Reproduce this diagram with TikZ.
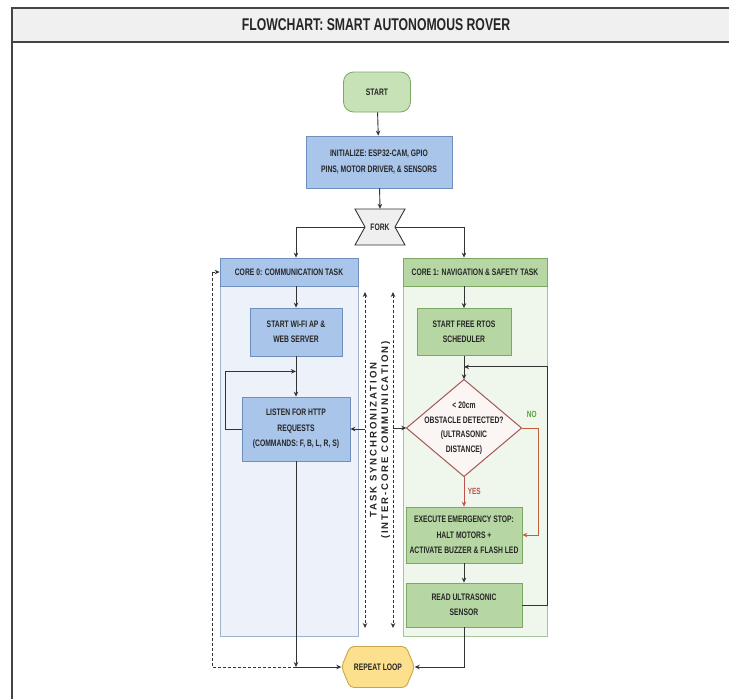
\documentclass[tikz,border=0pt]{standalone}
\usepackage{fontspec}
\setmainfont{Liberation Sans}[FakeStretch=0.72]
\newfontfamily\syncfont{Liberation Sans}[LetterSpace=20]
\usetikzlibrary{calc,arrows.meta}
\definecolor{bluef}{HTML}{A9C5EA}
\definecolor{bluedr}{HTML}{6F8FBF}
\definecolor{greenf}{HTML}{B6D7A3}
\definecolor{greendr}{HTML}{7DA862}
\definecolor{startf}{HTML}{C8E2B8}
\definecolor{pzf}{HTML}{EDF2FA}
\definecolor{pzd}{HTML}{9FB3D1}
\definecolor{pof}{HTML}{EFF6EC}
\definecolor{pod}{HTML}{A8C49B}
\definecolor{diaf}{HTML}{FBF5F3}
\definecolor{diad}{HTML}{A4585A}
\definecolor{repf}{HTML}{FDE08E}
\definecolor{repd}{HTML}{C9A648}
\definecolor{forkf}{HTML}{EFEFEF}
\definecolor{txt}{HTML}{262626}
\definecolor{linec}{HTML}{333333}
\definecolor{framec}{HTML}{444444}
\definecolor{titlebg}{HTML}{F0F0F0}
\definecolor{yesc}{HTML}{C0504D}
\definecolor{noc}{HTML}{C0603A}
\definecolor{nolab}{HTML}{5AA040}
\newcommand\bxfont{\fontsize{9.4}{15.5}\selectfont\bfseries\color{txt}}
\begin{document}
\begin{tikzpicture}[x=1pt,y=-1pt,
  box/.style={line width=0.8pt, align=center, inner sep=1pt, font=\bxfont},
  bluebox/.style={box, draw=bluedr, fill=bluef},
  greenbox/.style={box, draw=greendr, fill=greenf},
  panel/.style={line width=0.8pt, inner sep=0},
  arr/.style={-{Stealth[length=5pt,width=4.5pt]}, line width=0.9pt, draw=linec},
  darr/.style={{Stealth[length=5pt,width=4.5pt]}-{Stealth[length=5pt,width=4.5pt]}, line width=0.9pt, draw=linec},
  dsh/.style={dash pattern=on 3pt off 2pt, line width=0.8pt, draw=linec},
  plain/.style={line width=0.9pt, draw=linec}]
\useasboundingbox (0,0) rectangle (729,699);
\fill[white] (0,0) rectangle (729,699);
% frame and title
\fill[titlebg] (12,8) rectangle (729,42);
\draw[framec, line width=1.5pt] (729,8) -- (12,8) -- (12,699);
\draw[framec, line width=1.5pt] (12,42) -- (729,42);
\node[font=\fontsize{17}{19}\selectfont\bfseries\color{txt}] (title) at (376,25) {FLOWCHART: SMART AUTONOMOUS ROVER};
% panels
\node[panel, fill=pzf, draw=pzd, minimum width=138pt, minimum height=378pt] (p0) at (289,447) {};
\node[panel, fill=pof, draw=pod, minimum width=144pt, minimum height=378pt] (p1) at (475,447) {};
\node[bluebox, minimum width=138pt, minimum height=28pt] (h0) at (289,272) {CORE 0: COMMUNICATION TASK};
\node[greenbox, minimum width=144pt, minimum height=28pt] (h1) at (475,272) {CORE 1: NAVIGATION \& SAFETY TASK};
% top
\node[box, draw=greendr, fill=startf, rounded corners=10pt, minimum width=67pt, minimum height=40pt] (start) at (377,92) {START};
\node[bluebox, minimum width=146pt, minimum height=52pt] (init) at (379,162) {INITIALIZE: ESP32-CAM, GPIO\\PINS, MOTOR DRIVER, \& SENSORS};
\coordinate (fc) at (380,227);
\draw[line width=0.9pt, draw=linec, fill=forkf] ($(fc)+(-25,-18)$) -- ($(fc)+(25,-18)$) -- ($(fc)+(15,0)$) -- ($(fc)+(25,18)$) -- ($(fc)+(-25,18)$) -- ($(fc)+(-15,0)$) -- cycle;
\node[font=\bxfont, minimum width=30pt, minimum height=36pt, inner sep=0] (fork) at (fc) {FORK};
% core 0 boxes
\node[bluebox, minimum width=92pt, minimum height=48pt] (wifi) at (296,332) {START WI-FI AP \&\\WEB SERVER};
\node[bluebox, minimum width=108pt, minimum height=64pt] (listen) at (296,429) {LISTEN FOR HTTP\\REQUESTS\\(COMMANDS: F, B, L, R, S)};
% core 1 boxes
\node[greenbox, minimum width=94pt, minimum height=47pt] (rtos) at (464,332) {START FREE RTOS\\SCHEDULER};
\coordinate (dc) at (464,428);
\draw[line width=1pt, draw=diad, fill=diaf] ($(dc)+(0,-48.5)$) -- ($(dc)+(57.5,0)$) -- ($(dc)+(0,48.5)$) -- ($(dc)+(-57.5,0)$) -- cycle;
\node[font=\fontsize{9.4}{14.5}\selectfont\bfseries\color{txt}, align=center, minimum width=115pt, minimum height=97pt, inner sep=0] (dia) at (dc) {< 20cm\\OBSTACLE DETECTED?\\(ULTRASONIC\\DISTANCE)};
\node[greenbox, minimum width=116pt, minimum height=56pt] (em) at (464,535) {EXECUTE EMERGENCY STOP:\\HALT MOTORS +\\ACTIVATE BUZZER \& FLASH LED};
\node[greenbox, minimum width=116pt, minimum height=44pt] (rd) at (464,605) {READ ULTRASONIC\\SENSOR};
% repeat loop
\coordinate (rc) at (378,667);
\draw[line width=0.9pt, draw=repd, fill=repf, rounded corners=4pt] ($(rc)+(-28,-20.5)$) -- ($(rc)+(28,-20.5)$) -- ($(rc)+(36.5,0)$) -- ($(rc)+(28,20.5)$) -- ($(rc)+(-28,20.5)$) -- ($(rc)+(-36.5,0)$) -- cycle;
\node[font=\bxfont, minimum width=73pt, minimum height=41pt, inner sep=0] (rep) at (rc) {REPEAT LOOP};
% sync
\node[rotate=90, align=center, font=\syncfont\fontsize{9.6}{11.5}\selectfont\bfseries\color{txt}] (sync) at (380,440) {TASK SYNCHRONIZATION\\(INTER-CORE COMMUNICATION)};
\coordinate (sa1) at (365,292);
\coordinate (sa2) at (365,628);
\coordinate (sb1) at (393,292);
\coordinate (sb2) at (393,628);
\draw[dsh, darr] (sa1) -- (sa2);
\draw[dsh, darr] (sb1) -- (sb2);
\draw[arr] (sa1 |- listen.east) -- (listen.east);
\draw[arr] (sb1 |- dia.west) -- (dia.west);
% connectors
\draw[arr] (start) -- (init);
\draw[arr] (init) -- (fork.north);
\draw[arr] (fork.west) -| (wifi |- h0.north);
\draw[arr] (fork.east) -| (rtos |- h1.north);
\draw[arr] (wifi |- h0.south) -- (wifi.north);
\draw[arr] (wifi.south) -- (listen.north);
\coordinate (j0) at ($(wifi.south)+(0,15)$);
\draw[arr] (listen.west) -- ++(-16,0) |- (j0);
\draw[arr, line width=0.7pt] (listen.south) -- (listen |- rep.west) coordinate (m0);
\draw[arr] (m0) -- (rep.west);
\coordinate (dl) at (212,272);
\draw[dsh] (m0) -| (dl);
\draw[dsh, arr] (dl) -- (dl -| p0.west);
\draw[arr] (h1.south -| rtos) -- (rtos.north);
\draw[arr] (rtos.south) -- (dia.north);
\coordinate (j1) at ($(rtos.south)+(0,11)$);
\draw[arr] (rd.east) -| (p1.east |- j1) -- (j1);
\draw[-{Stealth[length=5pt,width=4.5pt]}, line width=0.9pt, draw=noc] (dia.east) -- ++(17,0) |- (em.east);
\node[font=\fontsize{9}{10}\selectfont\bfseries\color{nolab}] (nolabel) at ($(dia.east)+(10,-14)$) {NO};
\draw[-{Stealth[length=5pt,width=4.5pt]}, line width=0.9pt, draw=yesc] (dia.south) -- (em.north) node[midway, right, font=\fontsize{9}{10}\selectfont\bfseries\color{yesc}] (yeslabel) {YES};
\draw[arr] (em.south) -- (rd.north);
\draw[arr, line width=0.7pt] (rd.south) |- (rep.east);
\end{tikzpicture}
\end{document}
